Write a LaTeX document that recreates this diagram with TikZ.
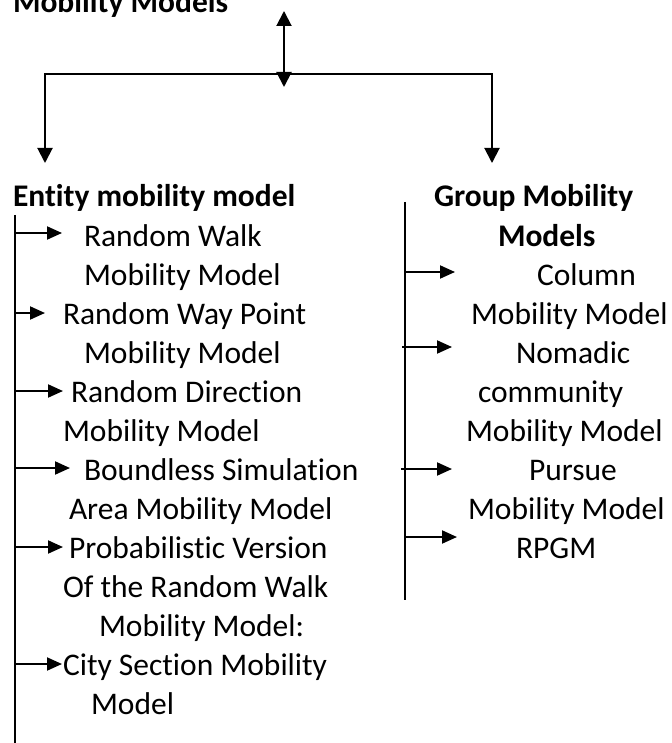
\documentclass[tikz,border=0pt]{standalone}
\usepackage{fontspec}
\setmainfont{Carlito}[Ligatures=NoCommon]
\usetikzlibrary{arrows.meta}

\begin{document}
\begin{tikzpicture}[x=1pt,y=-1pt,line width=2pt,
    font=\fontsize{31.5}{39}\selectfont,
    >={Triangle[length=15pt,width=15pt]},
    heading/.style={font=\fontsize{31.5}{39}\selectfont\bfseries,anchor=base west,inner sep=0pt},
    txt/.style={anchor=base west,inner sep=0pt},
    subarrow/.style={-{Triangle[length=15pt,width=13pt]}}]
  \useasboundingbox (0,0) rectangle (671,743);

  % root, half cut by the top edge
  \node[heading] (root) at (12,13) {Mobility Models};
  \coordinate (up) at (284,11);
  \coordinate (hub) at (284,87);
  \draw[<->] (up) -- (hub);

  % split into the two families
  \coordinate (bus) at (284,74);
  \coordinate (eDown) at (45,163);
  \coordinate (gDown) at (492,163);
  \draw[<->] (eDown) |- (bus) -| (gDown);

  % entity models, left column
  \node[heading] (ent) at (12,207) {Entity mobility model};
  \coordinate (eTop) at (15,215);
  \coordinate (eEnd) at (15,743);
  \draw (eTop) -- (eEnd);% left trunk
  \node[txt] (rw1) at (83,246) {Random Walk};
  \node[txt] (rw2) at (83,285) {Mobility Model};
  \node[txt] (rwp1) at (62,324) {Random Way Point};
  \node[txt] (rwp2) at (83,363) {Mobility Model};
  \node[txt] (rd1) at (70,402) {Random Direction};
  \node[txt] (rd2) at (62,441) {Mobility Model};
  \node[txt] (bs1) at (83,480) {Boundless Simulation};
  \node[txt] (bs2) at (68,519) {Area Mobility Model};
  \node[txt] (pv1) at (68,558) {Probabilistic Version};
  \node[txt] (pv2) at (62,597) {Of the Random Walk};
  \node[txt] (pv3) at (98,636) {Mobility Model:};
  \node[txt] (cs1) at (62,675) {City Section Mobility};
  \node[txt] (cs2) at (90,714) {Model};
  \coordinate (e1) at (15,233); \coordinate (e1t) at (62,233);
  \coordinate (e2) at (15,313); \coordinate (e2t) at (45,313);
  \coordinate (e3) at (15,391); \coordinate (e3t) at (63,391);
  \coordinate (e4) at (15,468); \coordinate (e4t) at (70,468);
  \coordinate (e5) at (15,547); \coordinate (e5t) at (63,547);
  \coordinate (e6) at (15,664); \coordinate (e6t) at (62,664);
  \draw[subarrow] (e1) -- (e1t);
  \draw[subarrow] (e2) -- (e2t);
  \draw[subarrow] (e3) -- (e3t);
  \draw[subarrow] (e4) -- (e4t);
  \draw[subarrow] (e5) -- (e5t);
  \draw[subarrow] (e6) -- (e6t);

  % group models, right column
  \node[heading] (grp1) at (433,207) {Group Mobility};
  \node[heading] (grp2) at (497,246) {Models};
  \coordinate (gTop) at (405,202);
  \coordinate (gEnd) at (405,600);
  \draw (gTop) -- (gEnd);% right trunk
  \node[txt] (col1) at (536,285) {Column};
  \node[txt] (col2) at (470,324) {Mobility Model};
  \node[txt] (nc1) at (515,363) {Nomadic};
  \node[txt] (nc2) at (477,402) {community};
  \node[txt] (nc3) at (465,441) {Mobility Model};
  \node[txt] (pu1) at (528,480) {Pursue};
  \node[txt] (pu2) at (467,519) {Mobility Model};
  \node[txt] (rpgm) at (515,558) {RPGM};
  \coordinate (g1) at (405,272); \coordinate (g1t) at (455,272);
  \coordinate (g2) at (402,347); \coordinate (g2t) at (452,347);
  \coordinate (g3) at (401,469); \coordinate (g3t) at (452,469);
  \coordinate (g4) at (405,537); \coordinate (g4t) at (457,537);
  \draw[subarrow] (g1) -- (g1t);
  \draw[subarrow] (g2) -- (g2t);
  \draw[subarrow] (g3) -- (g3t);
  \draw[subarrow] (g4) -- (g4t);
\end{tikzpicture}
\end{document}
